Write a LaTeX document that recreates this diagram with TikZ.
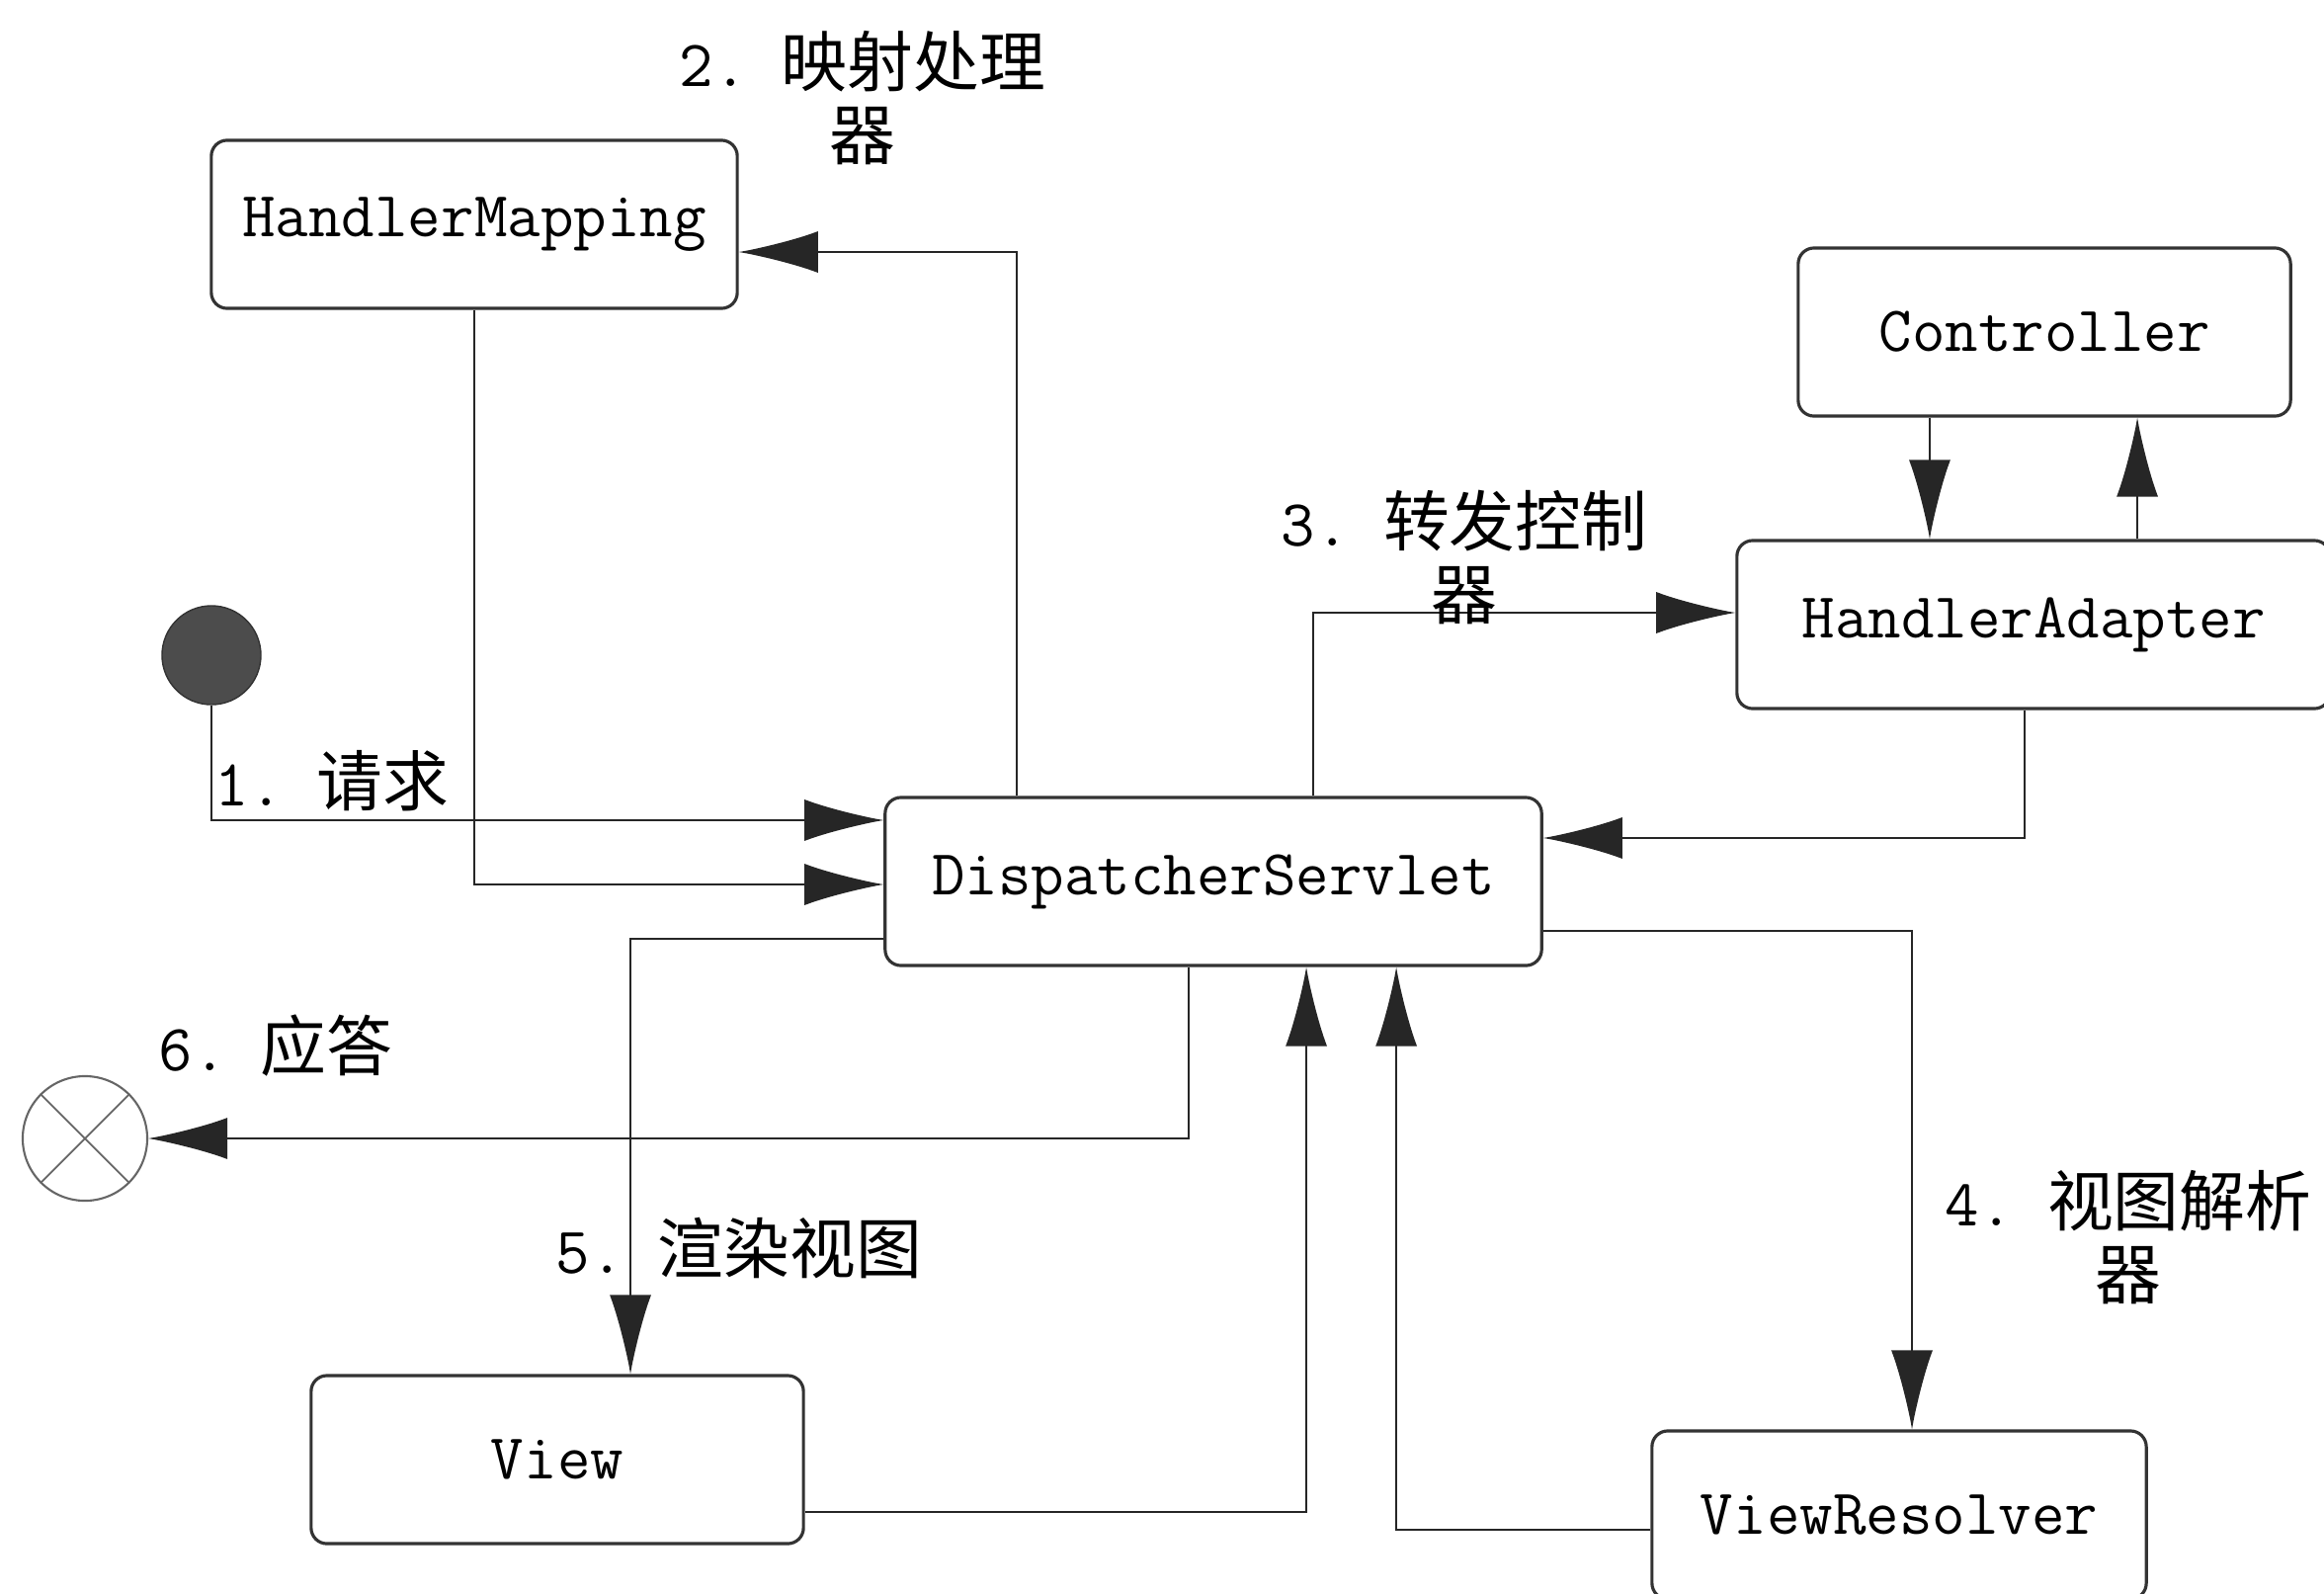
\documentclass[tikz,border=0pt]{standalone}
\usepackage{fontspec}
\newfontfamily\cjk{Noto Sans CJK SC}
\usepackage{tikz}
\usetikzlibrary{arrows.meta,shapes}

\newcommand{\steplabel}[2]{{\ttfamily #1.\ }{\cjk #2}}

\tikzset{
  comp/.style={draw=black!80, line width=0.9pt, rounded corners=0.16cm,
    minimum height=1.7cm, inner sep=0pt,
    font=\ttfamily\fontsize{18.5}{20}\selectfont},
  lbl/.style={inner sep=0pt, align=center, font=\fontsize{19}{21}\selectfont},
  flow/.style={draw=black!85, line width=0.6pt,
    -{Latex[length=0.8cm,width=0.42cm]}}
}

\begin{document}
\begin{tikzpicture}[x=0.01cm,y=-0.01cm]
\useasboundingbox (0,0) rectangle (2352,1612);

% components
\node[comp, minimum width=5.32cm] (hm)   at (480,227)   {HandlerMapping};
\node[comp, minimum width=4.98cm] (ctrl) at (2069,336)  {Controller};
\node[comp, minimum width=6cm]    (ha)   at (2058,632)  {HandlerAdapter};
\node[comp, minimum width=6.64cm] (ds)   at (1228,892)  {DispatcherServlet};
\node[comp, minimum width=4.98cm] (view) at (564,1477)  {View};
\node[comp, minimum width=5cm]    (vr)   at (1922,1533) {ViewResolver};

% start / end states
\node[circle, fill=black!70, draw=black!80, minimum size=1cm, inner sep=0] (start) at (214,663) {};
\node[circle, draw=black!60, line width=0.6pt, minimum size=1.26cm, inner sep=0] (stop) at (86,1152) {};
\draw[black!60, line width=0.5pt] (stop.north west) -- (stop.south east) (stop.north east) -- (stop.south west);

% flows
\draw[flow] (start) |- ([yshift=6.2mm]ds.west);
\draw[flow] (hm.south) |- ([yshift=-0.3mm]ds.west);
\draw[flow] ([xshift=-1.99cm]ds.north) |- ([yshift=-2.8mm]hm.east);
\draw[flow] ([xshift=1.01cm]ds.north) |- ([yshift=1.2mm]ha.west);
\draw[flow] ([xshift=-0.9mm]ha.south) |- ([yshift=4.4mm]ds.east);
\draw[flow] ([xshift=-1.16cm]ctrl.south) -- ([xshift=-1.16cm]ctrl.south |- ha.north);
\draw[flow] ([xshift=0.94cm]ctrl.south |- ha.north) -- ([xshift=0.94cm]ctrl.south);
\draw[flow] ([yshift=-5mm]ds.east) -| ([xshift=1.3mm]vr.north);
\draw[flow] ([yshift=-1.5mm]vr.west) -| ([xshift=1.85cm]ds.south);
\draw[flow] ([yshift=-5.3mm]view.east) -| ([xshift=0.94cm]ds.south);
\draw[flow] ([yshift=-5.8mm]ds.west) -| ([xshift=7.4mm]view.north);
\draw[flow] ([xshift=-2.5mm]ds.south) |- (stop);

% step labels
\node[lbl, anchor=base west] (l1) at (217,815)  {\steplabel{1}{请求}};
\node[lbl] (l2) at (873,99)   {\steplabel{2}{映射处理}\\{\cjk 器}};
\node[lbl] (l3) at (1482,564) {\steplabel{3}{转发控制}\\{\cjk 器}};
\node[lbl] (l4) at (2154,1252) {\steplabel{4}{视图解析}\\{\cjk 器}};
\node[lbl, anchor=base west] (l5) at (562,1288) {\steplabel{5}{渲染视图}};
\node[lbl, anchor=base west] (l6) at (160,1083) {\steplabel{6}{应答}};
\end{tikzpicture}
\end{document}
